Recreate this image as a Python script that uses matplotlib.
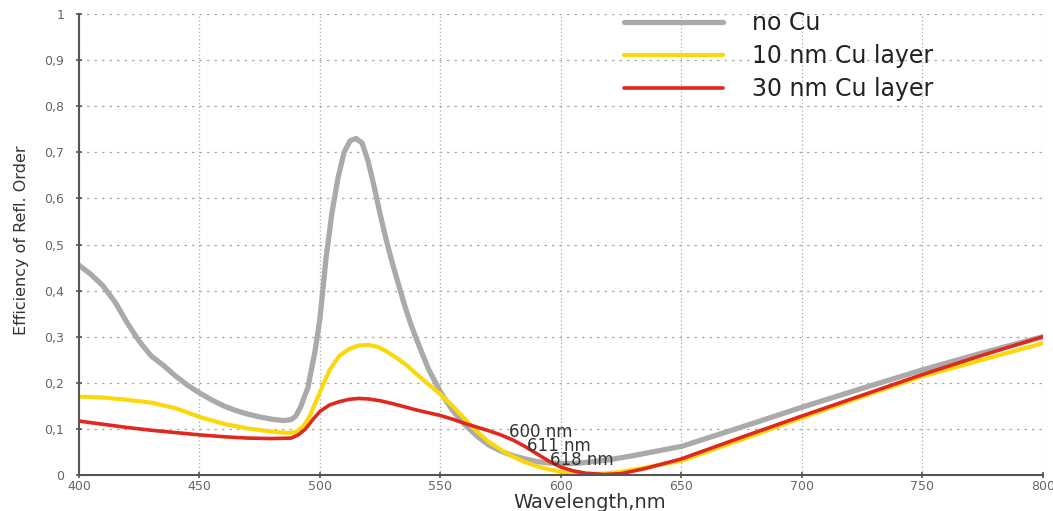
import matplotlib
matplotlib.use("Agg")
import matplotlib.pyplot as plt
from matplotlib.ticker import FuncFormatter

# wavelength (nm) / efficiency values
wl_nocu = [400, 405, 410, 415, 420, 425, 430, 435, 440, 445, 450, 455, 460, 465,
           470, 475, 480, 485, 488, 490, 492, 495, 498, 500, 502.5, 505, 507.5,
           510, 512.5, 515, 517.5, 520, 522.5, 525, 527.5, 530, 532.5, 535,
           537.5, 540, 545, 550, 555, 560, 565, 570, 575, 580, 585, 590, 595,
           600, 605, 610, 620, 630, 640, 650, 675, 700, 725, 750, 775, 800]
eff_nocu = [0.455, 0.435, 0.41, 0.375, 0.33, 0.29, 0.258, 0.238, 0.215, 0.195,
            0.178, 0.163, 0.150, 0.140, 0.132, 0.126, 0.121, 0.118, 0.120, 0.128,
            0.148, 0.19, 0.27, 0.34, 0.47, 0.57, 0.645, 0.70, 0.725, 0.73, 0.72,
            0.68, 0.625, 0.565, 0.51, 0.46, 0.415, 0.37, 0.33, 0.295, 0.23, 0.18,
            0.14, 0.11, 0.085, 0.065, 0.052, 0.042, 0.035, 0.029, 0.026, 0.025,
            0.025, 0.027, 0.033, 0.042, 0.052, 0.062, 0.104, 0.147, 0.188, 0.228,
            0.265, 0.30]

wl_10 = [400, 410, 420, 430, 440, 450, 460, 470, 480, 487, 490, 493, 496, 500,
         504, 508, 512, 516, 520, 524, 528, 532, 536, 540, 545, 550, 555, 560,
         565, 570, 575, 580, 585, 590, 595, 600, 605, 611, 618, 625, 635, 650,
         675, 700, 725, 750, 775, 800]
eff_10 = [0.170, 0.168, 0.163, 0.157, 0.145, 0.126, 0.111, 0.101, 0.094, 0.091,
          0.093, 0.105, 0.13, 0.18, 0.228, 0.258, 0.273, 0.281, 0.282, 0.278,
          0.267, 0.253, 0.238, 0.219, 0.197, 0.175, 0.150, 0.122, 0.095, 0.072,
          0.055, 0.040, 0.028, 0.019, 0.012, 0.007, 0.004, 0.002, 0.003, 0.007,
          0.016, 0.031, 0.077, 0.124, 0.170, 0.214, 0.250, 0.286]

wl_30 = [400, 410, 420, 430, 440, 450, 460, 470, 480, 488, 491, 494, 497, 500,
         504, 508, 512, 516, 520, 525, 530, 535, 540, 545, 550, 555, 560, 565,
         570, 575, 580, 585, 590, 595, 600, 605, 610, 618, 625, 635, 650, 675,
         700, 725, 750, 775, 800]
eff_30 = [0.117, 0.110, 0.103, 0.097, 0.092, 0.087, 0.083, 0.080, 0.079, 0.080,
          0.087, 0.100, 0.120, 0.138, 0.152, 0.159, 0.164, 0.166, 0.165, 0.161,
          0.155, 0.148, 0.141, 0.135, 0.129, 0.121, 0.112, 0.104, 0.096, 0.087,
          0.076, 0.062, 0.046, 0.030, 0.017, 0.009, 0.004, 0.001, 0.003, 0.014,
          0.035, 0.082, 0.128, 0.173, 0.218, 0.260, 0.300]

labels = ["no Cu", "10 nm Cu layer", "30 nm Cu layer"]
min_labels = ["600 nm", "611 nm", "618 nm"]
min_label_pos = [(578.5, 0.093), (585.8, 0.063), (595.3, 0.033)]

plt.rcParams['font.family'] = ['DejaVu Sans']

fig = plt.figure(figsize=(10.53, 5.11), dpi=100)
ax = fig.add_axes([0.075, 0.0705, 0.9155, 0.902])

ax.plot(wl_nocu, eff_nocu, color='#aaaaaa', lw=3.8, label=labels[0], solid_capstyle='round')
ax.plot(wl_10, eff_10, color='#fbd80c', lw=3.0, label=labels[1], solid_capstyle='round')
ax.plot(wl_30, eff_30, color='#e0281e', lw=2.6, label=labels[2], solid_capstyle='round')

for txt, (x, y) in zip(min_labels, min_label_pos):
    ax.text(x, y, txt, fontsize=12, color='#333333', va='center', ha='left')

ax.set_xlim(400, 800)
ax.set_ylim(0, 1)
ax.set_xticks(range(400, 801, 50))
ax.set_yticks([i / 10 for i in range(11)])
ax.yaxis.set_major_formatter(FuncFormatter(
    lambda v, p: '0' if v == 0 else ('1' if v == 1 else f'{v:.1f}'.replace('.', ','))))

ax.xaxis.grid(True, color='#aaaaaa', lw=0.9, linestyle=(0, (1, 2)))
ax.yaxis.grid(True, color='#aaaaaa', lw=0.9, linestyle=(0, (2, 4)))
ax.set_axisbelow(True)

for s in ['top', 'right']:
    ax.spines[s].set_visible(False)
for s in ['left', 'bottom']:
    ax.spines[s].set_color('#555555')
    ax.spines[s].set_linewidth(1.5)

ax.tick_params(axis='both', direction='inout', length=5, width=1.2, color='#555555',
               labelcolor='#666666', labelsize=9)
ax.tick_params(axis='y', pad=8)
ax.tick_params(axis='x', pad=1)

ax.set_xlabel('Wavelength,nm', fontsize=14, color='#333333')
ax.xaxis.set_label_coords(0.53, -0.04)
ax.set_ylabel('Efficiency of Refl. Order', fontsize=11.5, color='#333333')
ax.yaxis.set_label_coords(-0.052, 0.51)

ax.legend(loc='upper left', bbox_to_anchor=(0.577, 1.01), bbox_transform=fig.transFigure,
          frameon=False, fontsize=17, handlelength=4.2, handletextpad=1.2,
          labelspacing=0.37, borderpad=0.2, labelcolor='#222222')

fig.savefig('out.png', dpi=100)
